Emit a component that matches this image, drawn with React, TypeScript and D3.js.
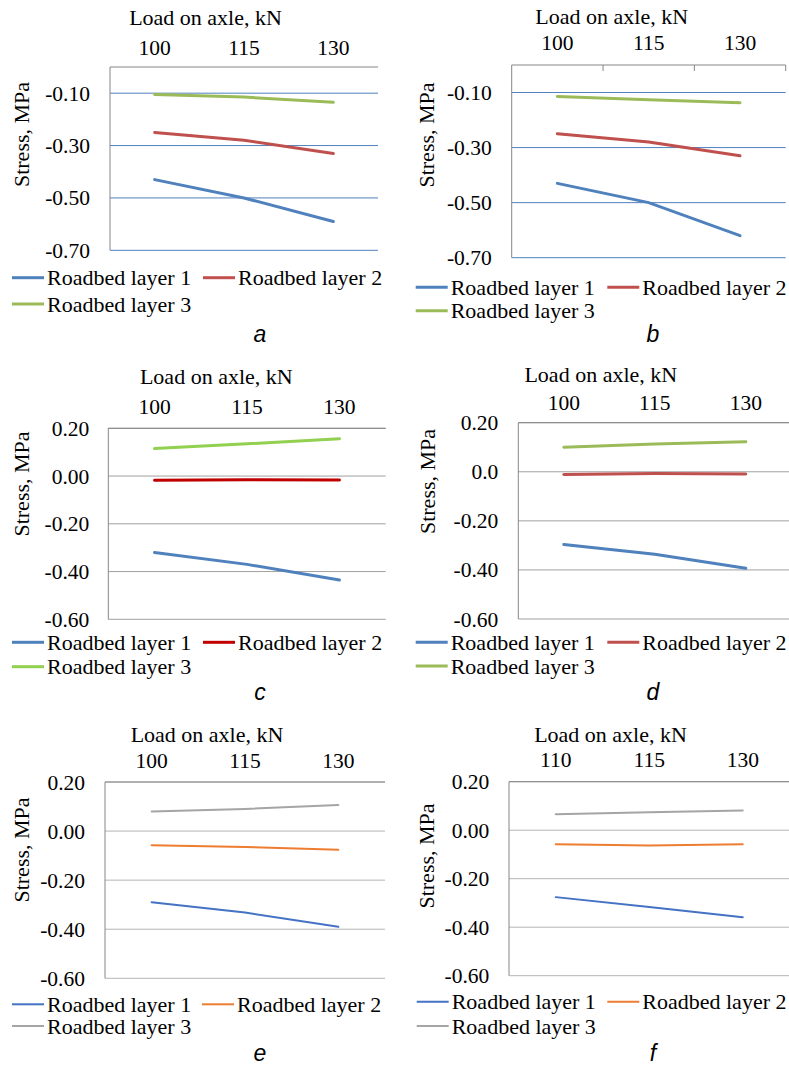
import React from 'react';
import { scaleBand, scaleLinear, line } from 'd3';

// categories (load on axle, kN)
const loads = ['100', '115', '130'];
const loadsF = ['110', '115', '130'];

const layerNames = ['Roadbed layer 1', 'Roadbed layer 2', 'Roadbed layer 3'];

// stress values, MPa: [layer1, layer2, layer3]
const stressA = [
  [-0.43, -0.5, -0.59],
  [-0.25, -0.28, -0.33],
  [-0.105, -0.115, -0.135],
];
const stressB = [
  [-0.43, -0.5, -0.62],
  [-0.25, -0.28, -0.33],
  [-0.114, -0.126, -0.137],
];
const stressC = [
  [-0.32, -0.37, -0.435],
  [-0.018, -0.015, -0.017],
  [0.115, 0.135, 0.156],
];
const stressD = [
  [-0.296, -0.336, -0.393],
  [-0.011, -0.007, -0.009],
  [0.1, 0.113, 0.122],
];
const stressE = [
  [-0.29, -0.332, -0.39],
  [-0.058, -0.065, -0.076],
  [0.08, 0.09, 0.106],
];
const stressF = [
  [-0.276, -0.317, -0.359],
  [-0.058, -0.063, -0.058],
  [0.066, 0.074, 0.081],
];

// y ticks
const ticksAB = [-0.1, -0.3, -0.5, -0.7];
const tickLabelsAB = ['-0.10', '-0.30', '-0.50', '-0.70'];
const ticksCF = [0.2, 0, -0.2, -0.4, -0.6];
const tickLabelsCF = ['0.20', '0.00', '-0.20', '-0.40', '-0.60'];
const tickLabelsD = ['0.20', '0.0', '-0.20', '-0.40', '-0.60'];

const colorsAB = ['#4F81BD', '#C0504D', '#9BBB59'];
const colorsC = ['#4F81BD', '#C00000', '#92D050'];
const colorsEF = ['#4472C4', '#ED7D31', '#A5A5A5'];

const serif = "'Liberation Serif', 'Times New Roman', 'DejaVu Serif', serif";
const sans = "'Liberation Sans', Arial, sans-serif";

type Panel = {
  label: string;
  cats: string[];
  data: number[][];
  colors: string[];
  domain: [number, number];
  ticks: number[];
  tickLabels: string[];
  grid: string;
  lw: number;
  topTicks?: boolean;
  box: [number, number, number, number]; // x0, x1, y0, y1
  titleX: number;
  titleY: number;
  catY: number;
  yLabX: number;
  yTitle: [number, number];
  leg: { y1: number; y2: number; l1: number; l2: number };
  lab: [number, number];
};

const panels: Panel[] = [
  {
    label: 'a', cats: loads, data: stressA, colors: colorsAB, domain: [-0.7, 0],
    ticks: ticksAB, tickLabels: tickLabelsAB, grid: '#4F81BD', lw: 3,
    box: [110, 378, 67, 250.3], titleX: 205.5, titleY: 25, catY: 54.5, yLabX: 90,
    yTitle: [21.7, 134.5], leg: { y1: 277.7, y2: 304, l1: 12, l2: 203 }, lab: [260, 342],
  },
  {
    label: 'b', cats: loads, data: stressB, colors: colorsAB, domain: [-0.7, 0],
    ticks: ticksAB, tickLabels: tickLabelsAB, grid: '#4F81BD', lw: 3, topTicks: true,
    box: [511.7, 785.7, 65, 257.7], titleX: 611.7, titleY: 24.3, catY: 50, yLabX: 491.7,
    yTitle: [426.7, 135], leg: { y1: 287.3, y2: 310.7, l1: 415.7, l2: 607.3 }, lab: [653, 342],
  },
  {
    label: 'c', cats: loads, data: stressC, colors: colorsC, domain: [-0.6, 0.2],
    ticks: ticksCF, tickLabels: tickLabelsCF, grid: '#A0A0A0', lw: 3,
    box: [108.3, 385.7, 428.3, 619.3], titleX: 216.3, titleY: 384.3, catY: 414.3, yLabX: 89.3,
    yTitle: [21.7, 484], leg: { y1: 642.3, y2: 666.7, l1: 12, l2: 203 }, lab: [260, 700],
  },
  {
    label: 'd', cats: loads, data: stressD, colors: colorsAB, domain: [-0.6, 0.2],
    ticks: ticksCF, tickLabels: tickLabelsD, grid: '#A0A0A0', lw: 3,
    box: [518.3, 791.3, 422.7, 619], titleX: 600.8, titleY: 381.7, catY: 410, yLabX: 498.3,
    yTitle: [427.7, 481.5], leg: { y1: 642.3, y2: 666, l1: 415.7, l2: 607.3 }, lab: [653, 700],
  },
  {
    label: 'e', cats: loads, data: stressE, colors: colorsEF, domain: [-0.6, 0.2],
    ticks: ticksCF, tickLabels: tickLabelsCF, grid: '#B4B4B4', lw: 2,
    box: [105, 385, 782, 978.3], titleX: 207, titleY: 741.7, catY: 768.3, yLabX: 85,
    yTitle: [21.7, 850], leg: { y1: 1004.3, y2: 1026, l1: 12, l2: 202 }, lab: [260, 1061],
  },
  {
    label: 'f', cats: loadsF, data: stressF, colors: colorsEF, domain: [-0.6, 0.2],
    ticks: ticksCF, tickLabels: tickLabelsCF, grid: '#B4B4B4', lw: 2,
    box: [509, 789.5, 781.7, 975.7], titleX: 610.5, titleY: 741.7, catY: 767.3, yLabX: 489.3,
    yTitle: [426.7, 856], leg: { y1: 1001.7, y2: 1026, l1: 416.7, l2: 607.3 }, lab: [653, 1061],
  },
];

const ChartPanel = ({ p }: { p: Panel }) => {
  const [x0, x1, y0, y1] = p.box;
  const x = scaleBand().domain(p.cats).range([x0, x1]).padding(0);
  const y = scaleLinear().domain(p.domain).range([y1, y0]);
  const cx = (c: string) => (x(c) as number) + x.bandwidth() / 2;
  const lineFn = line<number>()
    .x((_, i) => cx(p.cats[i]))
    .y((d) => y(d));

  const legendItems = [
    { lx: p.leg.l1, ly: p.leg.y1 },
    { lx: p.leg.l2, ly: p.leg.y1 },
    { lx: p.leg.l1, ly: p.leg.y2 },
  ];

  return (
    <g style={{ fontFamily: serif }}>
      {/* gridlines */}
      {p.ticks.map((t) => (
        <line key={t} x1={x0} x2={x1} y1={y(t)} y2={y(t)} stroke={p.grid} strokeWidth={1} />
      ))}
      {/* axes */}
      <line x1={x0} x2={x1} y1={y0} y2={y0} stroke="#868686" strokeWidth={1} />
      <line x1={x0} x2={x0} y1={y0} y2={y1} stroke="#868686" strokeWidth={1} />
      {p.topTicks &&
        p.cats.map((c) => (
          <line
            key={c}
            x1={(x(c) as number) + x.bandwidth()}
            x2={(x(c) as number) + x.bandwidth()}
            y1={y0}
            y2={y0 + 6}
            stroke="#868686"
          />
        ))}
      {/* y tick labels */}
      {p.ticks.map((t, i) => (
        <text key={t} x={p.yLabX} y={y(t)} dy="0.35em" textAnchor="end" fontSize={21.5} fill="#000">
          {p.tickLabels[i]}
        </text>
      ))}
      {/* category labels */}
      {p.cats.map((c) => (
        <text key={c} x={cx(c)} y={p.catY} textAnchor="middle" fontSize={21.5}>
          {c}
        </text>
      ))}
      <text x={p.titleX} y={p.titleY} textAnchor="middle" fontSize={22}>
        Load on axle, kN
      </text>
      <text
        transform={`translate(${p.yTitle[0]},${p.yTitle[1]}) rotate(-90)`}
        dy="0.35em"
        textAnchor="middle"
        fontSize={22}
      >
        Stress, MPa
      </text>
      {/* series */}
      {p.data.map((s, i) => (
        <path key={i} d={lineFn(s) || ''} fill="none" stroke={p.colors[i]} strokeWidth={p.lw} strokeLinecap="round" />
      ))}
      {/* legend */}
      {legendItems.map((it, i) => (
        <g key={i}>
          <line x1={it.lx} x2={it.lx + 32} y1={it.ly} y2={it.ly} stroke={p.colors[i]} strokeWidth={p.lw} />
          <text x={it.lx + 35} y={it.ly + 7.5} fontSize={22}>
            {layerNames[i]}
          </text>
        </g>
      ))}
      <text
        x={p.lab[0]}
        y={p.lab[1]}
        textAnchor="middle"
        fontSize={23}
        style={{ fontFamily: sans, fontStyle: 'italic' }}
      >
        {p.label}
      </text>
    </g>
  );
};

export default function App() {
  return (
    <svg
      width={789}
      height={1066}
      style={{ position: 'absolute', left: 0, top: 0, background: '#fff' }}
    >
      <rect width={789} height={1066} fill="#fff" />
      {panels.map((p) => (
        <ChartPanel key={p.label} p={p} />
      ))}
    </svg>
  );
}
